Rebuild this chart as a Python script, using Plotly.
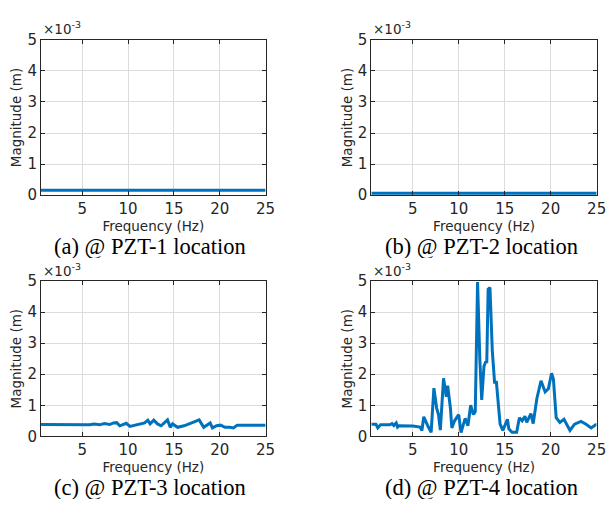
import plotly.graph_objects as go

# ---- data (magnitude in units of 1e-3 m) ----
f1 = [0.5, 25]
m1 = [0.155, 0.155]

f2 = [0.5, 25]
m2 = [0.06, 0.06]

f3 = [0.5, 5.0, 5.8, 6.3, 6.9, 7.4, 8.0, 8.4, 8.75, 9.1, 9.8, 10.2, 10.7, 11.25, 11.8, 12.15, 12.4,
      12.8, 13.2, 13.6, 14.3, 14.6, 14.85, 15.4, 16.1, 16.8, 17.5, 17.75, 18.25, 18.7, 18.95,
      19.2, 19.65, 20.1, 20.55, 21.1, 21.5, 21.9, 25.0]
m3 = [0.38, 0.38, 0.37, 0.40, 0.37, 0.41, 0.38, 0.43, 0.44, 0.34, 0.42, 0.32, 0.36, 0.40, 0.43,
      0.52, 0.40, 0.52, 0.40, 0.34, 0.53, 0.29, 0.40, 0.29, 0.34, 0.42, 0.50, 0.53, 0.29, 0.40,
      0.43, 0.27, 0.34, 0.36, 0.29, 0.29, 0.27, 0.36, 0.36]

f4 = [0.5, 1.0, 1.2, 1.5, 2.5, 2.75, 2.95, 3.2, 3.35, 3.5, 5.0, 5.8, 6.0, 6.2, 6.7, 7.0,
      7.3, 7.6, 7.8, 8.0, 8.35, 8.65, 8.8, 9.1, 9.25, 9.55, 10.0, 10.25, 10.7, 11.0,
      11.3, 11.6, 11.8, 12.05, 12.3, 12.5, 12.75, 12.95, 13.05, 13.2, 13.4, 13.65, 13.9,
      14.1, 14.5, 14.8, 15.3, 15.45, 15.8, 16.3, 16.6, 16.9, 17.2, 17.4, 17.85, 18.1,
      18.5, 18.95, 19.4, 19.75, 20.1, 20.3, 20.6, 21.0, 21.45, 21.7, 22.1, 22.6, 23.3,
      23.85, 24.4, 24.9, 25.0]
m4 = [0.39, 0.39, 0.27, 0.37, 0.37, 0.41, 0.35, 0.43, 0.30, 0.34, 0.33, 0.30, 0.19, 0.63, 0.30, 0.13,
      1.55, 0.91, 0.70, 0.20, 1.87, 1.27, 1.63, 0.90, 0.27, 0.50, 0.70, 0.12, 0.58, 0.34,
      1.00, 0.70, 0.80, 4.97, 2.46, 1.17, 2.26, 2.41, 2.36, 4.74, 4.79, 2.77, 1.74,
      1.74, 0.39, 0.19, 0.55, 0.24, 0.13, 0.13, 0.60, 0.50, 0.65, 0.45, 0.73, 0.41,
      1.22, 1.79, 1.43, 1.53, 2.03, 1.84, 0.60, 0.45, 0.55, 0.39, 0.19, 0.39, 0.48,
      0.39, 0.27, 0.37, 0.37]

captions = ["(a) @ PZT-1 location", "(b) @ PZT-2 location",
            "(c) @ PZT-3 location", "(d) @ PZT-4 location"]
x_ticks = [5, 10, 15, 20, 25]
y_ticks = [0, 1, 2, 3, 4, 5]

series = [(f1, m1), (f2, m2), (f3, m3), (f4, m4)]

W, H = 615, 509
# plot-area boxes in pixels: (left, right, top, bottom)
boxes = [(41.7, 270.0, 32, 193), (377.5, 606.5, 32, 193),
         (41.7, 270.0, 282, 443), (377.5, 606.5, 282, 443)]

fig = go.Figure()
layout = dict(width=W, height=H, margin=dict(l=0, r=0, t=0, b=0),
              paper_bgcolor="white", plot_bgcolor="white", showlegend=False)
annotations = []
axis_col = "#262626"
SANS = "DejaVu Sans, sans-serif"
font_ticks = dict(family=SANS, size=15, color=axis_col)
font_title = dict(family=SANS, size=13.5, color=axis_col)

for i, ((fx, my), (l, r, t, b)) in enumerate(zip(series, boxes)):
    n = "" if i == 0 else str(i + 1)
    fig.add_trace(go.Scatter(x=fx, y=my, mode="lines",
                             line=dict(color="#0072BD", width=3),
                             xaxis="x" + n, yaxis="y" + n))
    xd = [l / W, r / W]
    yd = [1 - b / H, 1 - t / H]
    layout["xaxis" + n] = dict(
        domain=xd, anchor="y" + n, range=[0.5, 25], tickvals=x_ticks,
        ticktext=[str(v) for v in x_ticks], ticks="inside", ticklen=4,
        tickcolor=axis_col, showline=True, linecolor=axis_col, linewidth=1, mirror="ticks",
        showgrid=True, gridcolor="#dcdcdc", gridwidth=1, zeroline=False,
        tickfont=font_ticks,
        title=dict(text="Frequency (Hz)", font=font_title, standoff=0))
    layout["yaxis" + n] = dict(
        domain=yd, anchor="x" + n, range=[0, 5], tickvals=y_ticks,
        ticktext=[str(v) for v in y_ticks], ticks="inside", ticklen=4,
        tickcolor=axis_col, showline=True, linecolor=axis_col, linewidth=1, mirror="ticks",
        showgrid=True, gridcolor="#dcdcdc", gridwidth=1, zeroline=False,
        tickfont=font_ticks,
        title=dict(text="Magnitude (m)", font=font_title, standoff=2))
    annotations.append(dict(text="×10<sup>-3</sup>", x=(l + 0.5) / W, y=1 - (t - 1.5) / H,
                            xref="paper", yref="paper", xanchor="left", yanchor="bottom",
                            showarrow=False, borderpad=0,
                            font=dict(family=SANS, size=13.5, color=axis_col)))
    annotations.append(dict(text=captions[i], x=((l + r) / 2 - 3) / W, y=1 - (b + 53) / H,
                            xref="paper", yref="paper", xanchor="center", yanchor="middle",
                            showarrow=False, height=23, valign="middle", borderpad=0,
                            font=dict(family="Liberation Serif, Times New Roman, serif",
                                      size=22.5, color="black")))

layout["annotations"] = annotations
fig.update_layout(**layout)
fig.write_html("out.html")
